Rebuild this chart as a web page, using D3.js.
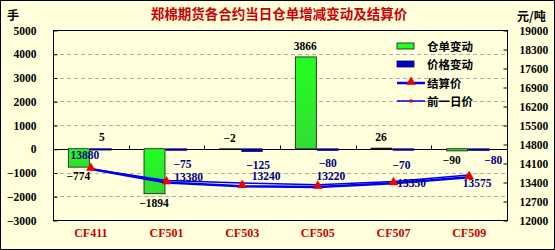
<!DOCTYPE html>
<html><head><meta charset="utf-8">
<script src="https://cdn.jsdelivr.net/npm/d3@7"></script>
<style>
html,body{margin:0;padding:0;background:#fff;}
svg{display:block;}
</style></head>
<body>
<script>
const categories = ["CF411","CF501","CF503","CF505","CF507","CF509"];
const warrantChange = [-774, -1894, -2, 3866, 26, -90];
const priceChange = [5, -75, -125, -80, -70, -80];
const settlePrice = [13880, 13380, 13240, 13220, 13350, 13575];
const prevPrice = [13875, 13455, 13365, 13300, 13420, 13655];
const leftTicks = [-3000,-2000,-1000,0,1000,2000,3000,4000,5000];
const rightTicks = [12000,12700,13400,14100,14800,15500,16200,16900,17600,18300,19000];
const title = "郑棉期货各合约当日仓单增减变动及结算价";
const legendLabels = ["仓单变动","价格变动","结算价","前一日价"];

const W = 555, H = 250;
const bg = "#ffffdc";
const svg = d3.select("body").append("svg").attr("width", W).attr("height", H);
svg.append("rect").attr("x",0.5).attr("y",0.5).attr("width",W-1).attr("height",H-1)
  .attr("fill",bg).attr("stroke","#000").attr("stroke-width",1);

const L = 53, R = 507, T = 30, B = 220;
const x = d3.scaleBand().domain(categories).range([L, R]).padding(0);
const yL = d3.scaleLinear().domain([-3000, 5000]).range([B, T]);
const yR = d3.scaleLinear().domain([12000, 19000]).range([B, T]);
const numFont = "'Liberation Serif', 'Times New Roman', serif";
const cjkFont = "'Noto Sans CJK SC', sans-serif";

// gridlines
svg.append("g").selectAll("line").data(leftTicks.filter(d => d !== 0 && d !== 5000 && d !== -3000)).join("line")
  .attr("x1", L).attr("x2", R).attr("y1", d => Math.round(yL(d))+0.5).attr("y2", d => Math.round(yL(d))+0.5)
  .attr("stroke", "#b0b0a0").attr("stroke-dasharray", "4,3").attr("stroke-width", 1);

// plot frame
svg.append("rect").attr("x", L+0.5).attr("y", T+0.5).attr("width", R-L).attr("height", B-T)
  .attr("fill","none").attr("stroke","#000").attr("stroke-width",1);

// left axis
const axL = d3.axisLeft(yL).tickValues(leftTicks).tickSize(-4).tickPadding(17).tickFormat(d => d < 0 ? "\u2212" + Math.abs(d) : d);
const gL = svg.append("g").attr("transform", `translate(${L+0.5},0.5)`).call(axL);
gL.select(".domain").remove();
gL.selectAll("line").attr("stroke","#000");
gL.selectAll("text").attr("font-family", numFont).attr("font-weight","bold").attr("font-size","11.5px").attr("fill","#000");

// right axis
const axR = d3.axisRight(yR).tickValues(rightTicks).tickSize(-4).tickPadding(12).tickFormat(d3.format("d"));
const gR = svg.append("g").attr("transform", `translate(${R+0.5},0.5)`).call(axR);
gR.select(".domain").remove();
gR.selectAll("line").attr("stroke","#000");
gR.selectAll("text").attr("font-family", numFont).attr("font-weight","bold").attr("font-size","11.5px").attr("fill","#000");

// zero line
const y0 = Math.round(yL(0)) + 0.5;
svg.append("line").attr("x1", L).attr("x2", R).attr("y1", y0).attr("y2", y0).attr("stroke","#000");
svg.append("g").selectAll("line").data(categories.slice(1)).join("line")
  .attr("x1", d => Math.round(x(d))+0.5).attr("x2", d => Math.round(x(d))+0.5)
  .attr("y1", y0).attr("y2", y0-4).attr("stroke","#000");

// category labels
svg.append("g").selectAll("text").data(categories).join("text")
  .attr("x", d => x(d) + x.bandwidth()/2).attr("y", 237)
  .attr("text-anchor","middle").attr("font-family", numFont).attr("font-weight","bold")
  .attr("font-size","12px").attr("fill","#cc0000").text(d => d);

const bw = 21;
const defs = svg.append("defs");
const grad = defs.append("linearGradient").attr("id","gbar").attr("x1",0).attr("x2",0).attr("y1",0).attr("y2",1);
grad.append("stop").attr("offset","0%").attr("stop-color","#22ff22");
grad.append("stop").attr("offset","100%").attr("stop-color","#33dd33");

// warrant bars
svg.append("g").selectAll("rect").data(categories).join("rect")
  .attr("x", d => x(d) + x.bandwidth()/2 - bw - 1.5)
  .attr("width", bw)
  .attr("y", (d,i) => Math.min(yL(0), yL(warrantChange[i])))
  .attr("height", (d,i) => Math.abs(yL(0) - yL(warrantChange[i])))
  .attr("fill","url(#gbar)").attr("stroke","#111").attr("stroke-width",0.8);

// price change bars
svg.append("g").selectAll("rect").data(categories).join("rect")
  .attr("x", d => x(d) + x.bandwidth()/2 - 0.5)
  .attr("width", bw)
  .attr("y", (d,i) => Math.min(yL(0), yL(priceChange[i])))
  .attr("height", (d,i) => Math.max(1.5, Math.abs(yL(0) - yL(priceChange[i]))))
  .attr("fill","#000099").attr("stroke","#000066").attr("stroke-width",0.5);

// lines
const line = d3.line().x((d,i) => x(categories[i]) + x.bandwidth()/2).y(d => yR(d));
svg.append("path").datum(prevPrice).attr("d", line).attr("fill","none").attr("stroke","#0000ee").attr("stroke-width",1.5);
svg.append("path").datum(settlePrice).attr("d", line).attr("fill","none").attr("stroke","#0000ee").attr("stroke-width",2.5);

svg.append("g").selectAll("rect").data(prevPrice).join("rect")
  .attr("x", (d,i) => x(categories[i]) + x.bandwidth()/2 - 1.5).attr("y", d => yR(d) - 1.5)
  .attr("width",3).attr("height",3).attr("fill","#ee0000");
const tri = d3.symbol().type(d3.symbolTriangle).size(40);
svg.append("g").selectAll("path").data(settlePrice).join("path")
  .attr("d", tri).attr("transform", (d,i) => `translate(${x(categories[i]) + x.bandwidth()/2},${yR(d)-1})`)
  .attr("fill","#ee0000");

const lblFont = (sel) => sel.attr("font-family", numFont).attr("font-weight","bold").attr("font-size","11.5px");
const fmt = v => v < 0 ? "\u2212" + Math.abs(v) : String(v);

// warrant labels
lblFont(svg.append("g").selectAll("text").data(warrantChange).join("text")
  .attr("x", (d,i) => x(categories[i]) + x.bandwidth()/2 - bw/2 - 2 - (i === 5 ? 5 : 0))
  .attr("y", d => d >= -50 ? yL(Math.max(d,0)) - 7 : yL(d) + 13)
  .attr("text-anchor","middle").attr("fill","#000").text(fmt));

// price change labels
const pcDx = [11, 16, 16, 10, 8, 24];
const pcDy = [0, 19, 20, 18, 20, 15];
lblFont(svg.append("g").selectAll("text").data(priceChange).join("text")
  .attr("x", (d,i) => x(categories[i]) + x.bandwidth()/2 + pcDx[i])
  .attr("y", (d,i) => d > 0 ? yL(d) - 8 : yL(0) + pcDy[i])
  .attr("text-anchor","middle").attr("fill", d => d > 0 ? "#000" : "#000080").text(fmt));

// settle labels
const spDx = [-6, 22, 24, 13, 18, 8];
const spDy = [-10, -2, -6, -7, 4, 10];
lblFont(svg.append("g").selectAll("text").data(settlePrice).join("text")
  .attr("x", (d,i) => x(categories[i]) + x.bandwidth()/2 + spDx[i])
  .attr("y", (d,i) => yR(d) + spDy[i])
  .attr("text-anchor","middle").attr("fill","#000080").text(d => d));

// title & unit labels
svg.append("text").attr("x", 279).attr("y", 19).attr("text-anchor","middle")
  .attr("font-family", cjkFont).attr("font-weight","bold").attr("font-size","13.5px").attr("fill","#cc0000").text(title);
svg.append("text").attr("x", 7).attr("y", 20).attr("font-family", cjkFont).attr("font-weight","bold").attr("font-size","12px").attr("fill","#000").text("手");
svg.append("text").attr("x", 517).attr("y", 21).attr("font-family", cjkFont).attr("font-weight","bold").attr("font-size","12px").attr("fill","#000").text("元/吨");

// legend
const lg = svg.append("g");
const ly = [46, 64, 83, 101];
lg.append("rect").attr("x",397).attr("y",ly[0]-3).attr("width",17).attr("height",6).attr("fill","#22ff22").attr("stroke","#111").attr("stroke-width",0.8);
lg.append("rect").attr("x",397).attr("y",ly[1]-3).attr("width",17).attr("height",6).attr("fill","#0000cc").attr("stroke","#000066").attr("stroke-width",0.8);
lg.append("line").attr("x1",397).attr("x2",425).attr("y1",ly[2]).attr("y2",ly[2]).attr("stroke","#0000ee").attr("stroke-width",2.5);
lg.append("path").attr("d", tri).attr("transform",`translate(411,${ly[2]-1})`).attr("fill","#ee0000");
lg.append("line").attr("x1",397).attr("x2",425).attr("y1",ly[3]).attr("y2",ly[3]).attr("stroke","#0000ee").attr("stroke-width",1.5);
lg.append("rect").attr("x",409.5).attr("y",ly[3]-1.5).attr("width",3).attr("height",3).attr("fill","#ee0000");
lg.selectAll("text.l").data(legendLabels).join("text").attr("class","l")
  .attr("x", 427).attr("y", (d,i) => ly[i] + 4.5)
  .attr("font-family", cjkFont).attr("font-weight","bold").attr("font-size","11.5px").attr("fill","#000").text(d => d);
</script>
</body></html>
